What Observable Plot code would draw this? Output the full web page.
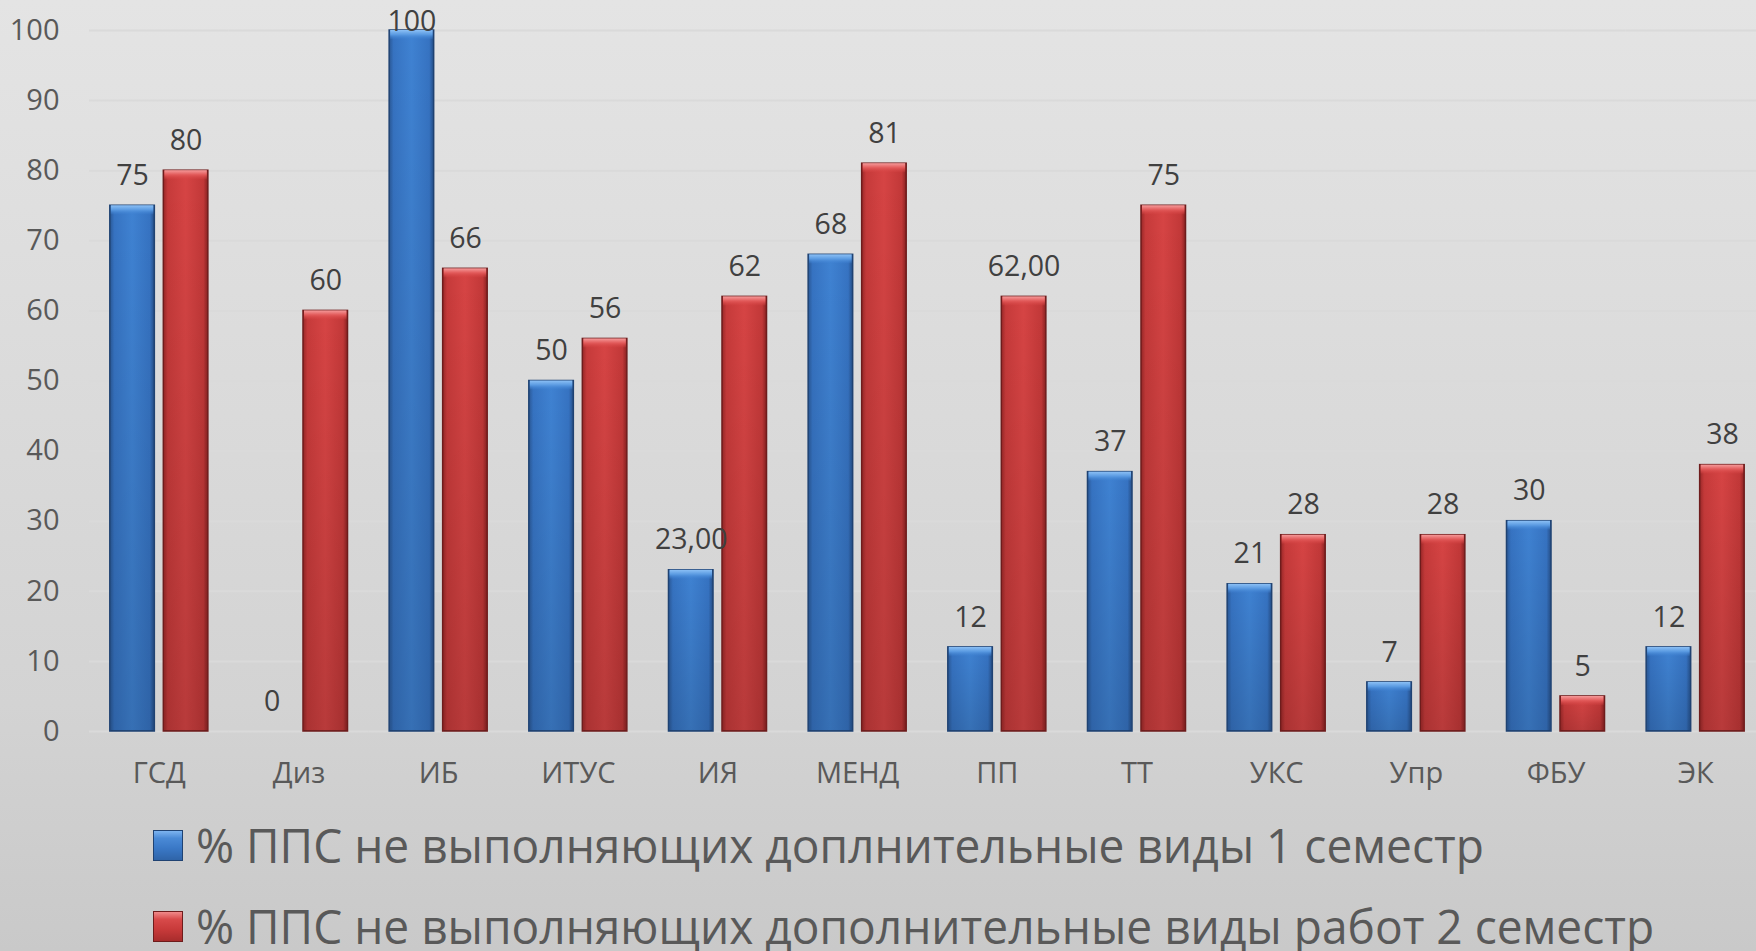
<!DOCTYPE html>
<html><head><meta charset="utf-8">
<script src="https://cdn.jsdelivr.net/npm/d3@7"></script>
<script src="https://cdn.jsdelivr.net/npm/@observablehq/plot@0.6"></script>
<style>
html,body{margin:0;padding:0;overflow:hidden;}
body{width:1756px;height:951px;background:linear-gradient(to bottom,#e4e4e4 0%,#d3d3d3 74%,#c9c9c9 100%);font-family:"Open Sans",sans-serif;position:relative;}
#chart{position:absolute;left:0;top:0;}
.legend{position:absolute;left:153px;color:#595959;font-size:48px;line-height:60px;white-space:nowrap;display:flex;align-items:center;}
.legend span{display:inline-block;transform:scaleX(0.96);transform-origin:left center;}
.sw{width:30px;height:31px;margin-right:13px;box-sizing:border-box;flex:none;}
.sw.b{background:linear-gradient(to bottom,#7db4f0 0%,#4a8ad6 25%,#3a78c6 60%,#2f64a8 100%);border:1px solid #1f4272;}
.sw.r{background:linear-gradient(to bottom,#f08a8a 0%,#d84a4a 25%,#c83a3a 60%,#a82c2c 100%);border:1px solid #6e1c1c;}
</style></head><body>
<div id="chart"></div>
<div class="legend" id="lg1" style="top:815px"><div class="sw b"></div><span id="t1"></span></div>
<div class="legend" id="lg2" style="top:896px"><div class="sw r"></div><span id="t2"></span></div>
<script>
const categories = ["ГСД", "Диз", "ИБ", "ИТУС", "ИЯ", "МЕНД", "ПП", "ТТ", "УКС", "Упр", "ФБУ", "ЭК"];
const seriesKeys = ["s1", "s2"];
const seriesNames = [
  "% ППС не выполняющих доплнительные виды 1 семестр",
  "% ППС не выполняющих дополнительные виды работ 2 семестр"
];
const semester1 = [75, 0, 100, 50, 23, 68, 12, 37, 21, 7, 30, 12];
const semester2 = [80, 60, 66, 56, 62, 81, 62, 75, 28, 28, 5, 38];
const labels1 = ["75", "0", "100", "50", "23,00", "68", "12", "37", "21", "7", "30", "12"];
const labels2 = ["80", "60", "66", "56", "62", "81", "62,00", "75", "28", "28", "5", "38"];
const yTicks = [0, 10, 20, 30, 40, 50, 60, 70, 80, 90, 100];

const rows = categories.flatMap((c, i) => [
  {cat: c, s: seriesKeys[0], value: semester1[i], label: labels1[i]},
  {cat: c, s: seriesKeys[1], value: semester2[i], label: labels2[i]}
]);
const rowsB = rows.filter(d => d.s === "s1");
const rowsR = rows.filter(d => d.s === "s2");

document.getElementById("t1").textContent = seriesNames[0];
document.getElementById("t2").textContent = seriesNames[1];

const plot = Plot.plot({
  width: 1756, height: 800,
  marginLeft: 89, marginRight: -9, marginTop: 30, marginBottom: 69,
  style: {background: "transparent", fontFamily: "'Open Sans', sans-serif", overflow: "visible"},
  fx: {domain: categories, padding: 0, round: false, label: null},
  x: {domain: seriesKeys, paddingInner: 0.168, paddingOuter: 0.389, round: false, axis: null},
  y: {domain: [0, 100], label: null},
  marks: [
    Plot.gridY(yTicks, {stroke: "#dadada", strokeOpacity: 1, strokeWidth: 2}),
    Plot.axisY(yTicks, {tickSize: 0, tickPadding: 30, fontSize: 29, fill: "#595959", label: null}),
    Plot.axisFx({anchor: "bottom", tickSize: 0, tickPadding: 31, fontSize: 29, fill: "#595959", label: null}),
    Plot.barY(rowsB, {fx: "cat", x: "s", y: "value", fill: "url(#gBlue)", stroke: "#1f4272", strokeWidth: 1.5}),
    Plot.barY(rowsR, {fx: "cat", x: "s", y: "value", fill: "url(#gRed)", stroke: "#6e1c1c", strokeWidth: 1.5}),
    Plot.barY(rows, {fx: "cat", x: "s", y: "value", fill: "url(#gShade)", insetLeft: 1, insetRight: 1}),
    Plot.barY(rowsB.filter(d => d.value > 0), {fx: "cat", x: "s", y1: "value", y2: "value", insetBottom: -9, insetLeft: 1, insetRight: 1, fill: "url(#capB)"}),
    Plot.barY(rowsR.filter(d => d.value > 0), {fx: "cat", x: "s", y1: "value", y2: "value", insetBottom: -9, insetLeft: 1, insetRight: 1, fill: "url(#capR)"}),
    Plot.text(rows, {fx: "cat", x: "s", y: d => Math.min(d.value, 96.9), text: "label", dy: -30, fontSize: 28.5, fill: "#404040"})
  ]
});

plot.insertAdjacentHTML("afterbegin", `<defs>
<linearGradient id="gBlue" x1="0" x2="1" y1="0" y2="0">
<stop offset="0" stop-color="#2a5896"/><stop offset="0.1" stop-color="#3673c2"/><stop offset="0.5" stop-color="#3f82d2"/><stop offset="0.9" stop-color="#3673c2"/><stop offset="1" stop-color="#264f88"/>
</linearGradient>
<linearGradient id="gRed" x1="0" x2="1" y1="0" y2="0">
<stop offset="0" stop-color="#9a2828"/><stop offset="0.1" stop-color="#c63a3a"/><stop offset="0.5" stop-color="#d64444"/><stop offset="0.9" stop-color="#c23838"/><stop offset="1" stop-color="#8a2222"/>
</linearGradient>
<linearGradient id="gShade" x1="0" x2="0" y1="0" y2="1">
<stop offset="0" stop-color="#000" stop-opacity="0"/><stop offset="1" stop-color="#000" stop-opacity="0.14"/>
</linearGradient>
<linearGradient id="capB" x1="0" x2="0" y1="0" y2="1">
<stop offset="0" stop-color="#8cc0f5"/><stop offset="0.5" stop-color="#5b9be2"/><stop offset="1" stop-color="#3f82d2" stop-opacity="0.2"/>
</linearGradient>
<linearGradient id="capR" x1="0" x2="0" y1="0" y2="1">
<stop offset="0" stop-color="#f59a9a"/><stop offset="0.5" stop-color="#e25a5a"/><stop offset="1" stop-color="#d64444" stop-opacity="0.2"/>
</linearGradient>
</defs>`);

document.getElementById("chart").appendChild(plot);
</script>
</body></html>
